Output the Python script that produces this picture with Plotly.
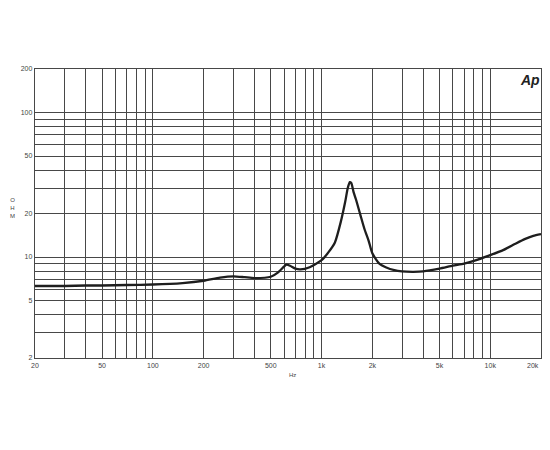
import plotly.graph_objects as go

# impedance curve
freq = [20, 30, 40, 50, 70, 100, 150, 200, 250, 300, 350, 400, 500, 550, 600, 620,
        650, 700, 750, 850, 1000, 1100, 1200, 1300, 1380, 1430, 1470, 1500, 1550,
        1600, 1700, 1800, 1900, 2000, 2200, 2400, 2700, 3000, 3500, 4000, 5000,
        6000, 7000, 8000, 10000, 12000, 14000, 16000, 18000, 20000]
ohm = [6.3, 6.3, 6.35, 6.35, 6.4, 6.45, 6.6, 6.85, 7.2, 7.35, 7.25, 7.15, 7.3, 7.8,
       8.6, 8.85, 8.7, 8.3, 8.2, 8.5, 9.5, 10.8, 12.6, 17.5, 24, 30, 33, 32.5, 28,
       25, 19.5, 15.5, 13, 10.6, 9.0, 8.5, 8.1, 7.95, 7.9, 7.95, 8.3, 8.7, 9.0,
       9.4, 10.3, 11.2, 12.3, 13.3, 14.0, 14.4]

x_grid = [20, 30, 40, 50, 60, 70, 80, 90, 100, 200, 300, 400, 500, 600, 700, 800, 900,
          1000, 2000, 3000, 4000, 5000, 6000, 7000, 8000, 9000, 10000, 20000]
x_labels = {20: '20', 50: '50', 100: '100', 200: '200', 500: '500', 1000: '1k',
            2000: '2k', 5000: '5k', 10000: '10k'}
y_grid = [2, 3, 4, 5, 6, 7, 8, 9, 10, 20, 30, 40, 50, 60, 70, 80, 90, 100, 200]
y_labels = {2: '2', 5: '5', 10: '10', 20: '20', 50: '50', 100: '100', 200: '200'}

grid_color = '#484848'
font_name = 'Liberation Sans, Arial'
label_font = dict(family=font_name, size=7, color='#444')

fig = go.Figure(go.Scatter(
    x=freq, y=ohm, mode='lines',
    line=dict(color='#1e1e1e', width=2.3, shape='spline', smoothing=0.6),
    hoverinfo='x+y'
))

fig.update_xaxes(
    type='log', range=[1.30103, 4.30103], automargin=False,
    tickvals=x_grid, ticktext=[x_labels.get(v, '') for v in x_grid],
    showgrid=True, gridcolor=grid_color, gridwidth=1.4,
    showline=True, linecolor=grid_color, linewidth=1.4, mirror=True,
    ticks='', tickfont=label_font, zeroline=False
)
fig.update_yaxes(
    type='log', range=[0.30103, 2.30103], automargin=False,
    tickvals=y_grid, ticktext=[y_labels.get(v, '') for v in y_grid],
    showgrid=True, gridcolor=grid_color, gridwidth=1.4,
    showline=True, linecolor=grid_color, linewidth=1.4, mirror=True,
    ticks='', tickfont=label_font, zeroline=False
)

# page body keeps its default 8px margin, so the figure is sized to fit the window
fig.update_layout(
    width=534, height=420,
    margin=dict(l=27, r=1, t=61, b=70),
    paper_bgcolor='white', plot_bgcolor='white',
    showlegend=False,
    annotations=[
        dict(x=1, y=1, xref='paper', yref='paper', text='<b><i>Ap</i></b>',
             showarrow=False, xanchor='right', yanchor='top', yshift=-1, xshift=1,
             font=dict(family=font_name, size=14, color='#222')),
        dict(x=0, y=0.52, xref='paper', yref='paper', text='O<br>H<br>M',
             showarrow=False, xanchor='left', yanchor='middle', xshift=-27,
             font=dict(family=font_name, size=6, color='#444')),
        dict(x=0.508, y=0, xref='paper', yref='paper', text='Hz',
             showarrow=False, xanchor='center', yanchor='top', yshift=-12,
             font=dict(family=font_name, size=6, color='#444')),
        dict(x=1, y=0, xref='paper', yref='paper', text='20k',
             showarrow=False, xanchor='right', yanchor='top', yshift=-2,
             font=label_font),
    ]
)

fig.write_html("out.html")
